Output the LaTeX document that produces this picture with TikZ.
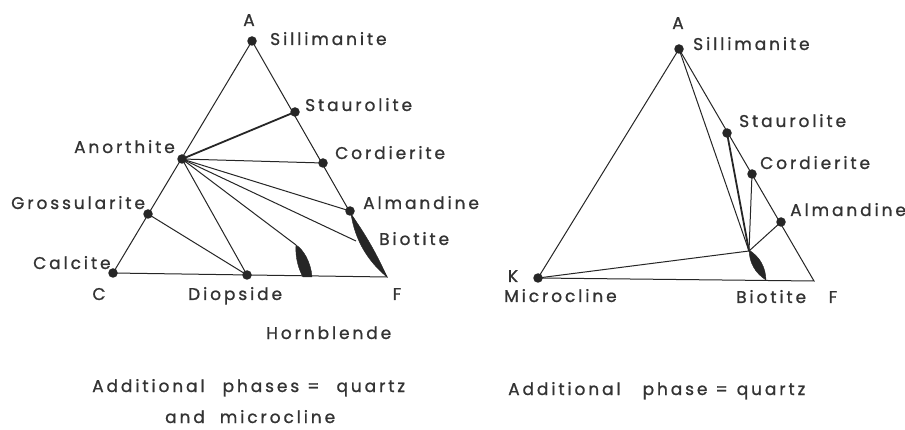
\documentclass[tikz,border=0pt]{standalone}
\usepackage{fontspec}
\newfontfamily\lblfont{Poppins}[LetterSpace=17, WordSpace=1.6, FakeBold=1]
\begin{document}
\begin{tikzpicture}[x=1pt,y=-1pt,
  ink/.style={draw=black!85, line width=1pt},
  thickink/.style={draw=black!85, line width=1.8pt},
  dot/.style={circle, fill=black!85, minimum size=9.5pt, inner sep=0pt},
  lbl/.style={font=\lblfont\fontsize{17}{20}\selectfont, text=black!80, inner sep=0pt, text height=12pt, text depth=0pt},
  lens/.style={fill=black!85, draw=black!85, line width=0.4pt}]
\useasboundingbox[fill=white] (0,0) rectangle (905,430);

% ---------- left diagram ----------
\node[dot] (S1) at (252,41) {};
\node[dot] (St1) at (295,112) {};
\node[dot] (Co1) at (323,163) {};
\node[dot] (Al1) at (350,211) {};
\node[dot] (An1) at (182,159) {};
\node[dot] (Gr1) at (148,214) {};
\node[dot] (Ca1) at (113,273) {};
\node[dot] (Di1) at (247,275) {};
\coordinate (F1) at (387,277);
\coordinate (Bi1) at (356,241);
\coordinate (Hb1) at (296,245);

\draw[ink] (S1.center) -- (Ca1.center) -- (F1) -- cycle;
\draw[thickink] (An1.center) -- (St1.center);
\draw[ink] (An1.center) -- (Co1.center);
\draw[ink] (An1.center) -- (Al1.center);
\draw[ink] (An1.center) -- (Bi1);
\draw[ink] (An1.center) -- (Hb1);
\draw[ink] (An1.center) -- (Di1.center);
\draw[ink] (Gr1.center) -- (Di1.center);

% biotite lens (left)
\fill[lens] (351,214) .. controls (355,239.5) and (367,260.5) .. (387,277)
  .. controls (377.2,254.8) and (365.2,233.8) .. (351,214) -- cycle;
% hornblende lens
\fill[lens] (296,245) .. controls (295,258) and (299,270) .. (303,277)
  -- (312,277) .. controls (311,262) and (303,249) .. (296,245) -- cycle;

\node[lbl, anchor=center] (A1) at (249,20) {A};
\node[lbl, anchor=west] (lS1) at (270,39) {Sillimanite};
\node[lbl, anchor=west] (lSt1) at (305,105) {Staurolite};
\node[lbl, anchor=east] (lAn1) at (175,147) {Anorthite};
\node[lbl, anchor=west] (lCo1) at (335,153) {Cordierite};
\node[lbl, anchor=west] (lGr1) at (11,203) {Grossularite};
\node[lbl, anchor=west] (lAl1) at (363,203) {Almandine};
\node[lbl, anchor=west] (lBi1) at (379,239) {Biotite};
\node[lbl, anchor=west] (lCa1) at (33,263) {Calcite};
\node[lbl, anchor=center] (C1) at (99,294) {C};
\node[lbl, anchor=west] (lDi1) at (188,294) {Diopside};
\node[lbl, anchor=center] (lF1) at (397,294) {F};
\node[lbl, anchor=west] (lHb1) at (266,333) {Hornblende};
\node[lbl, anchor=west] (add1) at (92,386) {Additional\hspace{18pt}phases\hspace{8pt}=\hspace{17pt}quartz};
\node[lbl, anchor=west] (add1b) at (165,417) {and\hspace{15pt}microcline};

% ---------- right diagram ----------
\node[dot] (S2) at (679,49) {};
\node[dot] (St2) at (727,133) {};
\node[dot] (Co2) at (752,174) {};
\node[dot] (Al2) at (781,222) {};
\node[dot] (K2) at (538,278) {};
\coordinate (F2) at (814,281);
\coordinate (J2) at (749,251);

\draw[ink] (S2.center) -- (K2.center) -- (F2) -- cycle;
\draw[ink] (S2.center) -- (J2);
\draw[thickink] (St2.center) -- (J2);
\draw[ink] (Co2.center) -- (J2);
\draw[ink] (Al2.center) -- (J2);
\draw[ink] (K2.center) -- (J2);

% biotite lens (right)
\fill[lens] (749,250) .. controls (749.5,263) and (755.1,273) .. (766,280)
  .. controls (765.5,267) and (759.9,257) .. (749,250) -- cycle;

\node[lbl, anchor=center] (A2) at (678,23) {A};
\node[lbl, anchor=west] (lS2) at (693,44) {Sillimanite};
\node[lbl, anchor=west] (lSt2) at (739,121) {Staurolite};
\node[lbl, anchor=west] (lCo2) at (760,163) {Cordierite};
\node[lbl, anchor=west] (lAl2) at (790,210) {Almandine};
\node[lbl, anchor=center] (lK2) at (513,276) {K};
\node[lbl, anchor=west] (lMi2) at (504,296) {Microcline};
\node[lbl, anchor=west] (lBi2) at (736,297) {Biotite};
\node[lbl, anchor=center] (lF2) at (833,297) {F};
\node[lbl, anchor=west] (add2) at (508,389) {Additional\hspace{22pt}phase\hspace{8pt}=\hspace{9pt}quartz};
\end{tikzpicture}
\end{document}
